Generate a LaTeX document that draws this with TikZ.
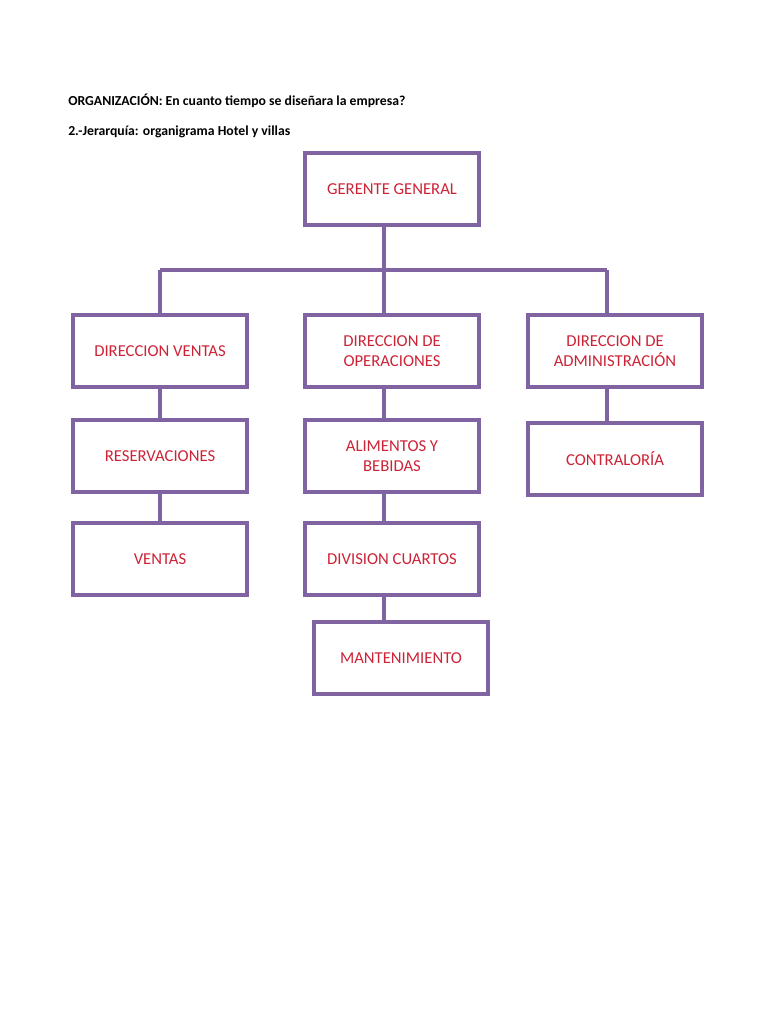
\documentclass[tikz,border=0pt]{standalone}
\usepackage{fontspec}
\setmainfont{Carlito}
\usetikzlibrary{backgrounds}
\definecolor{boxline}{RGB}{128,100,162}
\definecolor{boxtext}{RGB}{205,35,55}
\begin{document}
\begin{tikzpicture}[x=0.75pt,y=-0.75pt,
  orgbox/.style={draw=boxline,line width=2.3pt,fill=white,minimum width=130.5pt,minimum height=54pt,
    inner sep=0pt,align=center,text=boxtext,font=\fontsize{12.5}{14.5}\selectfont},
  link/.style={draw=boxline,line width=2.3pt},
  hdr/.style={anchor=west,inner sep=0pt,font=\bfseries\fontsize{10.3}{12}\selectfont}]
\useasboundingbox (0,0) rectangle (768,1024);
\node[hdr] (h1) at (68,101) {ORGANIZACIÓN: En cuanto tiempo se diseñara la empresa?};
\node[hdr] (h2) at (68,132) {2.-Jerarquía: organigrama Hotel y villas};
\node[orgbox] (gg) at (392,189) {GERENTE GENERAL};
\node[orgbox] (dv) at (160,351) {DIRECCION VENTAS};
\node[orgbox] (do) at (392,351) {DIRECCION DE\\OPERACIONES};
\node[orgbox] (da) at (615,351) {DIRECCION DE\\ADMINISTRACIÓN};
\node[orgbox] (re) at (160,456) {RESERVACIONES};
\node[orgbox] (ab) at (392,456) {ALIMENTOS Y\\BEBIDAS};
\node[orgbox] (co) at (615,459) {CONTRALORÍA};
\node[orgbox] (ve) at (160,559) {VENTAS};
\node[orgbox] (dc) at (392,559) {DIVISION CUARTOS};
\node[orgbox] (ma) at (401,658) {MANTENIMIENTO};
\coordinate (busL) at (160,270);
\coordinate (busM) at (384,270);
\coordinate (busR) at (607,270);
\begin{pgfonlayer}{background}
\draw[link] (gg.south -| busM) -- (busM);
\draw[link] (busL) -- (busR);
\draw[link] (busL) -- (dv.north);
\draw[link] (busM) -- (do.north -| busM);
\draw[link] (busR) -- (da.north -| busR);
\draw[link] (dv.south) -- (re.north);
\draw[link] (re.south) -- (ve.north);
\draw[link] (do.south -| busM) -- (ab.north -| busM);
\draw[link] (ab.south -| busM) -- (dc.north -| busM);
\draw[link] (dc.south -| busM) -- (ma.north -| busM);
\draw[link] (da.south -| busR) -- (co.north -| busR);
\end{pgfonlayer}
\end{tikzpicture}
\end{document}
